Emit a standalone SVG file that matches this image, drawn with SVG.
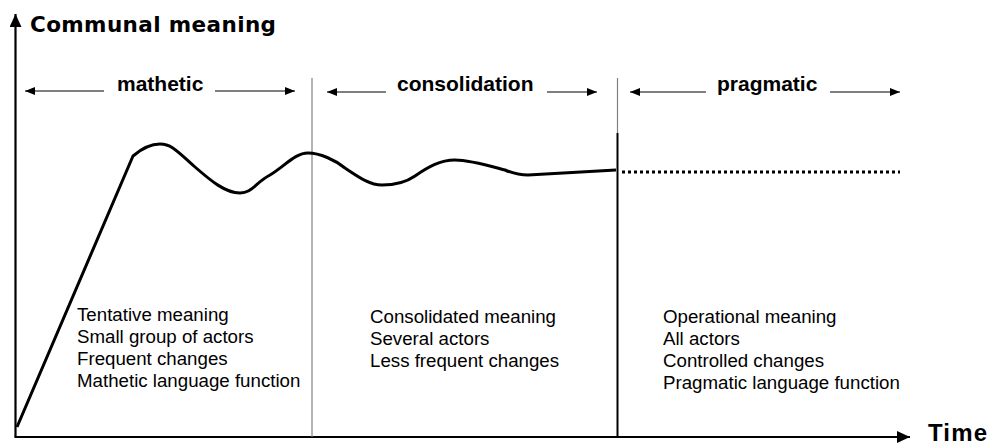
<svg xmlns="http://www.w3.org/2000/svg" width="991" height="446" viewBox="0 0 991 446">
<defs>
<marker id="ah" viewBox="0 0 10 8" refX="10" refY="4" markerWidth="10" markerHeight="8" markerUnits="userSpaceOnUse" orient="auto-start-reverse">
<path d="M0,0 L10,4 L0,8 Z" fill="#000"/>
</marker>
<marker id="axh" viewBox="0 0 13 12" refX="13" refY="6" markerWidth="13" markerHeight="12" markerUnits="userSpaceOnUse" orient="auto">
<path d="M0,0 L13,6 L0,12 Z" fill="#000"/>
</marker>
<style>
.lbl{font-family:"Liberation Sans",Arial,sans-serif;font-weight:bold;font-size:21px;fill:#000}
.body{font-family:"Liberation Sans",Arial,sans-serif;font-size:18.7px;fill:#000}
.span{stroke:#000;stroke-width:1.2;fill:none;marker-end:url(#ah)}
.sep{stroke:#808080;stroke-width:1.2}
</style>
</defs>
<rect width="991" height="446" fill="#fff"/>
<g id="axes">
<line x1="15.5" y1="437" x2="15.5" y2="14" stroke="#000" stroke-width="2.2" marker-end="url(#axh)"/>
<line x1="14.5" y1="437" x2="910" y2="437" stroke="#000" stroke-width="2.2" marker-end="url(#axh)"/>
<text x="30" y="32" style="font-family:'DejaVu Sans',Verdana,sans-serif;font-weight:bold;font-size:21.5px" textLength="246">Communal meaning</text>
<text x="928" y="441" style="font-family:'Liberation Sans',Arial,sans-serif;font-weight:bold;font-size:24px" textLength="59">Time</text>
</g>
<g id="separators">
<line class="sep" x1="312" y1="78" x2="312" y2="437"/>
<line class="sep" x1="617.5" y1="78" x2="617.5" y2="133"/>
<line x1="617.5" y1="133" x2="617.5" y2="437" stroke="#000" stroke-width="2"/>
</g>
<g id="phase-mathetic">
<line class="span" x1="104" y1="91" x2="25" y2="91"/>
<line class="span" x1="215" y1="91" x2="295" y2="91"/>
<text class="lbl" x="117" y="91">mathetic</text>
<text class="body" x="77" y="321">Tentative meaning</text>
<text class="body" x="77" y="343">Small group of actors</text>
<text class="body" x="77" y="365">Frequent changes</text>
<text class="body" x="77" y="387">Mathetic language function</text>
</g>
<g id="phase-consolidation">
<line class="span" x1="386" y1="92" x2="327" y2="92"/>
<line class="span" x1="547" y1="92" x2="597" y2="92"/>
<text class="lbl" x="397" y="91">consolidation</text>
<text class="body" x="370" y="323">Consolidated meaning</text>
<text class="body" x="370" y="345">Several actors</text>
<text class="body" x="370" y="367">Less frequent changes</text>
</g>
<g id="phase-pragmatic">
<line class="span" x1="706" y1="92" x2="630" y2="92"/>
<line class="span" x1="830" y1="92" x2="900" y2="92"/>
<text class="lbl" x="717" y="91">pragmatic</text>
<text class="body" x="663" y="323">Operational meaning</text>
<text class="body" x="663" y="345">All actors</text>
<text class="body" x="663" y="367">Controlled changes</text>
<text class="body" x="663" y="389">Pragmatic language function</text>
</g>
<g id="connectors">
<path d="M17,427 L133,156 C140,150 150,144 160,144 C172,144 178,152 195,167 C210,180 225,193 240,193 C252,193 255,183 270,175 C285,166 295,153 308,153 C320,153 335,160 345,168 C360,178 370,185 382,185 C395,185 405,183 415,176 C428,167 440,160 455,160 C470,160 490,166 505,170 C512,173 518,175 528,175 L616,170" fill="none" stroke="#000" stroke-width="3" stroke-linejoin="round"/>
<line x1="622" y1="172" x2="900" y2="172" stroke="#000" stroke-width="3" stroke-dasharray="3 3"/>
</g>
</svg>
